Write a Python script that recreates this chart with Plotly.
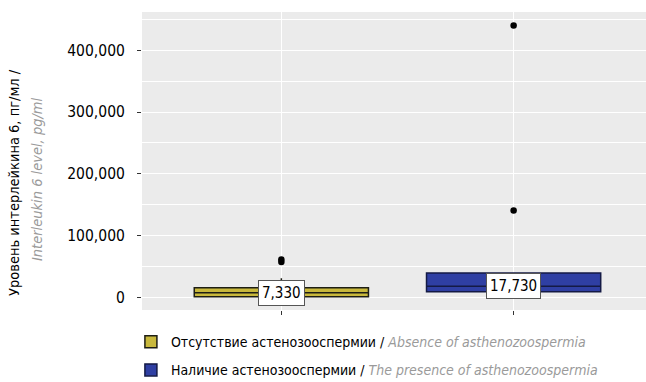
import plotly.graph_objects as go

# Interleukin-6 level by group: summary statistics per box
groups = ["Отсутствие астенозооспермии", "Наличие астенозооспермии"]
groups_en = ["Absence of asthenozoospermia", "The presence of asthenozoospermia"]
q1 = [1000, 9000]
medians = [7330, 17730]
q3 = [15500, 39500]
lower_whisker = [200, 8000]
upper_whisker = [31000, 40000]
outliers_absence = [57000, 61000]
outliers_presence = [140500, 440000]
median_labels = ["7,330", "17,730"]
y_ticks = [0, 100000, 200000, 300000, 400000]
y_title_ru = "Уровень интерлейкина 6, пг/мл /"
y_title_en = "Interleukin 6 level, pg/ml"

fill_colors = ["#c8b83c", "#2f3fa3"]
line_colors = ["#1e1e14", "#141a45"]

FONT = "DejaVu Sans Condensed, Liberation Sans Narrow, sans-serif"
PLOT_L, PLOT_W, PLOT_T, PLOT_H = 142, 504, 12, 298


def px_to_paper_x(px):
    return (px - PLOT_L) / PLOT_W


def px_to_paper_y(py):
    return (PLOT_T + PLOT_H - py) / PLOT_H


fig = go.Figure()

for i, name in enumerate(groups):
    fig.add_trace(go.Box(
        x=[name],
        q1=[q1[i]], median=[medians[i]], q3=[q3[i]],
        lowerfence=[lower_whisker[i]], upperfence=[upper_whisker[i]],
        name=f"{name} / <span style='color:#9a9a9a'><i>{groups_en[i]}</i></span>",
        legendgroup=f"g{i}",
        fillcolor=fill_colors[i],
        line=dict(color=line_colors[i], width=1.5),
        width=0.75,
        whiskerwidth=0,
        boxpoints=False,
        hoverinfo="skip",
    ))

outlier_sets = [outliers_absence, outliers_presence]
for i, pts in enumerate(outlier_sets):
    fig.add_trace(go.Scatter(
        x=[groups[i]] * len(pts), y=pts,
        mode="markers",
        marker=dict(color="black", size=6.5),
        showlegend=False,
        hoverinfo="skip",
    ))

for i, name in enumerate(groups):
    fig.add_annotation(
        x=name, y=medians[i], text=median_labels[i],
        showarrow=False,
        font=dict(family=FONT, size=15, color="black"),
        bgcolor="white", bordercolor="#555555", borderwidth=1, borderpad=3,
    )

# two-line rotated y-axis title
fig.add_annotation(
    xref="paper", yref="paper",
    x=px_to_paper_x(14), y=px_to_paper_y(183),
    xanchor="center", yanchor="middle",
    text=y_title_ru, textangle=-90, showarrow=False,
    font=dict(family=FONT, size=14.5, color="black"),
)
fig.add_annotation(
    xref="paper", yref="paper",
    x=px_to_paper_x(37), y=px_to_paper_y(179),
    xanchor="center", yanchor="middle",
    text=f"<i>{y_title_en}</i>", textangle=-90, showarrow=False,
    font=dict(family=FONT, size=14.5, color="#9a9a9a"),
)

fig.update_layout(
    width=646, height=382,
    margin=dict(l=PLOT_L, r=646 - PLOT_L - PLOT_W, t=PLOT_T, b=382 - PLOT_T - PLOT_H, autoexpand=False),
    paper_bgcolor="white",
    plot_bgcolor="#ebebeb",
    boxmode="overlay",
    font=dict(family=FONT, size=14, color="black"),
    showlegend=True,
    legend=dict(
        orientation="v",
        x=-0.022, xanchor="left",
        y=-0.054, yanchor="top",
        font=dict(family=FONT, size=14, color="black"),
        bgcolor="rgba(0,0,0,0)",
        tracegroupgap=7,
        itemclick=False,
    ),
    xaxis=dict(
        type="category",
        categoryorder="array", categoryarray=groups,
        range=[-0.6, 1.57],
        showticklabels=False,
        ticks="outside", ticklen=4, tickcolor="#333333",
        showgrid=True, gridcolor="white", gridwidth=1.2,
        zeroline=False, showline=False,
    ),
    yaxis=dict(
        range=[-20600, 462000],
        tickvals=y_ticks,
        tickformat=",d",
        ticks="outside", ticklen=4, tickcolor="#333333",
        ticklabelstandoff=9,
        tickfont=dict(family=FONT, size=15.5, color="black"),
        showgrid=True, gridcolor="white", gridwidth=1.4,
        minor=dict(dtick=50000, tick0=0, showgrid=True, gridcolor="white", gridwidth=0.6),
        zeroline=False, showline=False,
    ),
)

fig.write_html("out.html")
